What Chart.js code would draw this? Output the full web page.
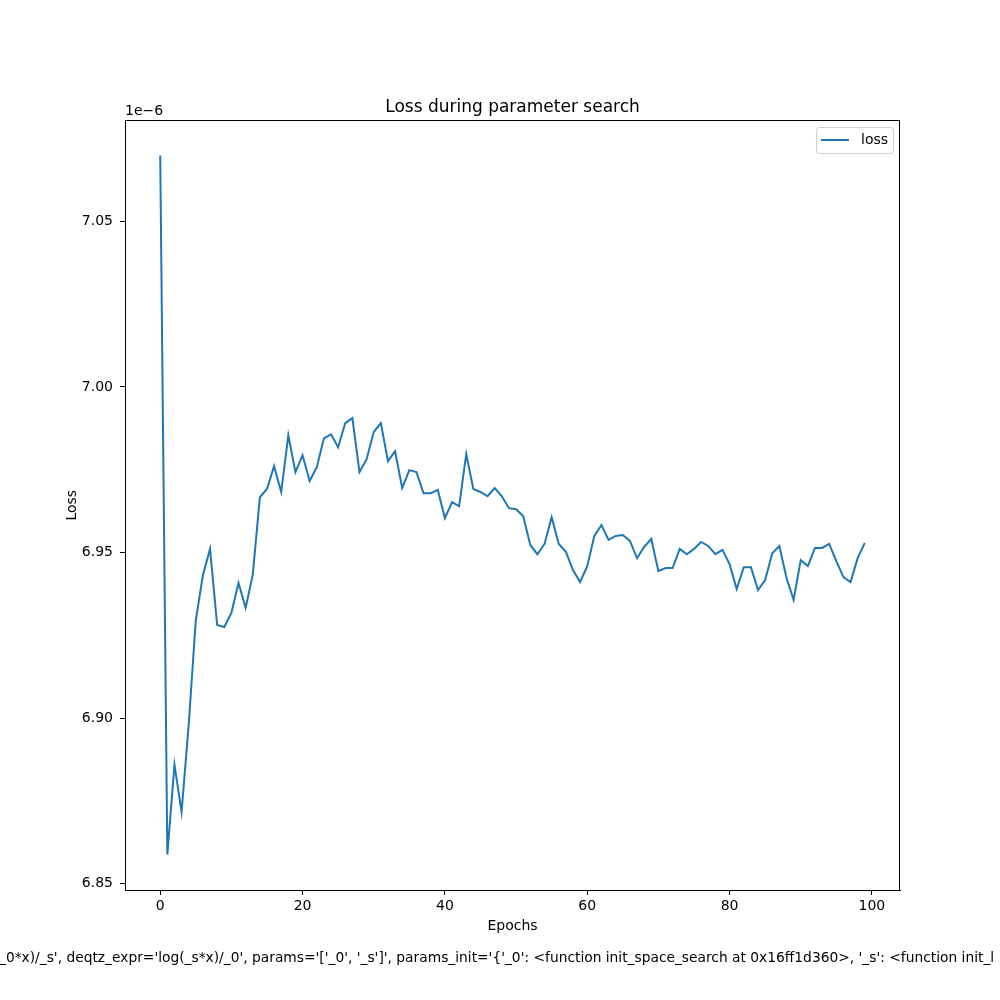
<!DOCTYPE html>
<html>
<head>
<meta charset="utf-8">
<script src="https://cdn.jsdelivr.net/npm/chart.js@4"></script>
<style>
  body { margin: 0; background: #fff; }
  canvas { display: block; }
</style>
</head>
<body>
<canvas id="myChart" width="1000" height="1000"></canvas>
<script>
// loss values, in units of 1e-6
var lossValues = [
  7.0699, 6.8588, 6.8859, 6.8717, 6.8980, 6.9296, 6.9432, 6.9511, 6.9281, 6.9275,
  6.9318, 6.9408, 6.9333, 6.9432, 6.9667, 6.9692, 6.9761, 6.9683, 6.9854, 6.9743,
  6.9794, 6.9716, 6.9758, 6.9845, 6.9857, 6.9818, 6.9891, 6.9906, 6.9743, 6.9782,
  6.9864, 6.9891, 6.9776, 6.9806, 6.9695, 6.9749, 6.9743, 6.9679, 6.9679, 6.9689,
  6.9604, 6.9652, 6.9640, 6.9797, 6.9692, 6.9683, 6.9670, 6.9695, 6.9670, 6.9634,
  6.9631, 6.9610, 6.9523, 6.9495, 6.9526, 6.9607, 6.9526, 6.9502, 6.9447, 6.9411,
  6.9459, 6.9550, 6.9583, 6.9538, 6.9550, 6.9553, 6.9535, 6.9483, 6.9517, 6.9541,
  6.9444, 6.9453, 6.9453, 6.9511, 6.9495, 6.9511, 6.9532, 6.9520, 6.9495, 6.9508,
  6.9465, 6.9390, 6.9456, 6.9456, 6.9387, 6.9417, 6.9498, 6.9520, 6.9423, 6.9357,
  6.9477, 6.9459, 6.9514, 6.9514, 6.9526, 6.9474, 6.9426, 6.9411, 6.9483, 6.9529
];
var epochs = lossValues.map(function (v, i) { return i; });
var xTicks = [0, 20, 40, 60, 80, 100];
var yTicks = [6.85, 6.90, 6.95, 7.00, 7.05];
var caption = "_0*x)/_s', deqtz_expr='log(_s*x)/_0', params='['_0', '_s']', params_init='{'_0': <function init_space_search at 0x16ff1d360>, '_s': <function init_l";

var font = "DejaVu Sans";
var blue = "#1f77b4";

var extras = {
  id: 'extras',
  afterDraw: function (chart) {
    var c = chart.ctx;
    var a = chart.chartArea;
    c.save();
    // frame
    c.strokeStyle = '#000';
    c.lineWidth = 1;
    c.strokeRect(Math.round(a.left) + 0.5, Math.round(a.top) + 0.5,
      Math.round(a.right - a.left) - 1, Math.round(a.bottom - a.top));
    // offset label
    c.fillStyle = '#000';
    c.font = '14px "' + font + '"';
    c.textBaseline = 'alphabetic';
    c.textAlign = 'left';
    c.fillText('1e\u22126', a.left, a.top - 5);
    // legend
    var lx = 816, ly = 127, lw = 77, lh = 26;
    c.beginPath();
    c.roundRect(lx + 0.5, ly + 0.5, lw, lh, 3);
    c.fillStyle = 'rgba(255,255,255,0.8)';
    c.fill();
    c.strokeStyle = '#d0d0d0';
    c.stroke();
    c.beginPath();
    c.moveTo(821, ly + 13);
    c.lineTo(849, ly + 13);
    c.strokeStyle = blue;
    c.lineWidth = 2;
    c.stroke();
    c.fillStyle = '#000';
    c.textBaseline = 'middle';
    c.fillText('loss', 861, ly + 13);
    // caption
    c.font = '13.8px "' + font + '"';
    c.textBaseline = 'middle';
    c.textAlign = 'left';
    c.fillText(caption, -1, 958);
    c.restore();
  }
};

var ctx = document.getElementById("myChart").getContext('2d');
var lineChart = new Chart(ctx, {
  type: 'line',
  data: {
    datasets: [{
      label: 'loss',
      data: epochs.map(function (e, i) { return { x: e, y: lossValues[i] }; }),
      borderColor: blue,
      borderWidth: 2,
      pointRadius: 0,
      tension: 0,
      fill: false
    }]
  },
  options: {
    responsive: false,
    animation: false,
    devicePixelRatio: 1,
    layout: { padding: { top: 87, left: 64, right: 100, bottom: 65 } },
    plugins: {
      legend: { display: false },
      tooltip: { enabled: false },
      title: {
        display: true,
        fullSize: false,
        text: 'Loss during parameter search',
        color: '#000',
        font: { family: font, size: 17, weight: 'normal' },
        padding: { top: 10, bottom: 3 }
      }
    },
    scales: {
      x: {
        type: 'linear',
        min: -4.95,
        max: 103.95,
        afterBuildTicks: function (scale) {
          scale.ticks = xTicks.map(function (v) { return { value: v }; });
        },
        afterFit: function (scale) { scale.height = 45; },
        ticks: {
          color: '#000',
          padding: 3,
          maxRotation: 0,
          font: { family: font, size: 14 },
          callback: function (v) { return v; }
        },
        grid: { drawOnChartArea: false, drawTicks: true, tickLength: 5, color: '#000' },
        border: { display: true, color: '#000' },
        title: {
          display: true,
          text: 'Epochs',
          color: '#000',
          font: { family: font, size: 14 },
          padding: 0
        }
      },
      y: {
        type: 'linear',
        min: 6.8481,
        max: 7.0805,
        afterBuildTicks: function (scale) {
          scale.ticks = yTicks.map(function (v) { return { value: v }; });
        },
        afterFit: function (scale) { scale.width = 61; },
        ticks: {
          color: '#000',
          padding: 7,
          font: { family: font, size: 14 },
          callback: function (v) { return v.toFixed(2); }
        },
        grid: { drawOnChartArea: false, drawTicks: true, tickLength: 5, color: '#000' },
        border: { display: true, color: '#000' },
        title: {
          display: true,
          text: 'Loss',
          color: '#000',
          font: { family: font, size: 14 },
          padding: 0
        }
      }
    }
  },
  plugins: [extras]
});
</script>
</body>
</html>
